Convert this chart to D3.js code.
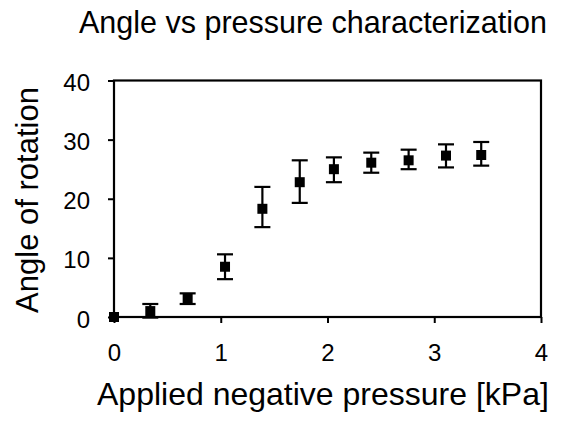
<!DOCTYPE html>
<html>
<head>
<meta charset="utf-8">
<script src="https://cdn.jsdelivr.net/npm/d3@7"></script>
<style>
  body { margin: 0; background: #fff; }
  text { font-family: "Liberation Sans", Arial, sans-serif; fill: #000; }
</style>
</head>
<body>
<svg id="chart" width="567" height="421"></svg>
<script>
// data
const pressure = [0, 0.34, 0.69, 1.04, 1.39, 1.74, 2.06, 2.41, 2.76, 3.11, 3.44];
const angle    = [0, 1.0, 3.1, 8.5, 18.3, 22.8, 25.0, 26.1, 26.5, 27.3, 27.4];
const errLow   = [0, 1.1, 0.9, 2.1, 3.1, 3.5, 2.2, 1.7, 1.5, 2.0, 1.8];
const errHigh  = [0, 1.2, 0.9, 2.1, 3.7, 3.7, 2.0, 1.7, 1.8, 1.9, 2.2];
const xTicks = [0, 1, 2, 3, 4];
const yTicks = [0, 10, 20, 30, 40];

const svg = d3.select("#chart");
const plotLeft = 114, plotRight = 541, plotTop = 80.5, plotBottom = 317;

const x = d3.scaleLinear().domain([0, 4]).range([plotLeft, plotRight]);
const y = d3.scaleLinear().domain([0, 40]).range([plotBottom, plotTop]);

let pts = pressure.map((p, i) => ({x: p, y: angle[i], lo: angle[i] - errLow[i], hi: angle[i] + errHigh[i]}));

// title
svg.append("text")
    .attr("x", 79).attr("y", 33)
    .style("font-size", "30.5px")
    .text("Angle vs pressure characterization");

// axes
let gx = svg.append("g").attr("transform", "translate(0," + plotBottom + ")")
    .call(d3.axisBottom(x).tickValues(xTicks).tickSize(6).tickPadding(21).tickFormat(d3.format("d")));
let gy = svg.append("g").attr("transform", "translate(" + plotLeft + ",0)")
    .call(d3.axisLeft(y).tickValues(yTicks).tickSize(6).tickPadding(18).tickFormat(d3.format("d")));

[gx, gy].forEach(g => {
    g.select(".domain").remove();
    g.selectAll("line").attr("stroke", "#000").attr("stroke-width", 2);
    g.selectAll("text").attr("font-family", null).style("font-size", "24px");
});
gy.selectAll("text").attr("dy", "0.42em");

// frame
svg.append("rect")
    .attr("x", plotLeft).attr("y", plotTop)
    .attr("width", plotRight - plotLeft).attr("height", plotBottom - plotTop)
    .attr("fill", "none").attr("stroke", "#000").attr("stroke-width", 2.2);

// error bars
let eb = svg.append("g").attr("stroke", "#000").attr("stroke-width", 2.2);
pts.filter(d => d.hi > d.lo).forEach(d => {
    eb.append("line").attr("x1", x(d.x)).attr("x2", x(d.x)).attr("y1", y(d.lo)).attr("y2", y(d.hi));
    eb.append("line").attr("x1", x(d.x) - 8).attr("x2", x(d.x) + 8).attr("y1", y(d.lo)).attr("y2", y(d.lo));
    eb.append("line").attr("x1", x(d.x) - 8).attr("x2", x(d.x) + 8).attr("y1", y(d.hi)).attr("y2", y(d.hi));
});

// markers
svg.append("g").selectAll("rect").data(pts).join("rect")
    .attr("x", d => x(d.x) - 5).attr("y", d => y(d.y) - 5)
    .attr("width", 10).attr("height", 10)
    .attr("fill", "#000");

// axis labels
svg.append("text")
    .attr("x", 97).attr("y", 405)
    .style("font-size", "32px")
    .text("Applied negative pressure [kPa]");

svg.append("text")
    .attr("transform", "translate(38,200) rotate(-90)")
    .attr("text-anchor", "middle")
    .style("font-size", "31px")
    .text("Angle of rotation");
</script>
</body>
</html>
